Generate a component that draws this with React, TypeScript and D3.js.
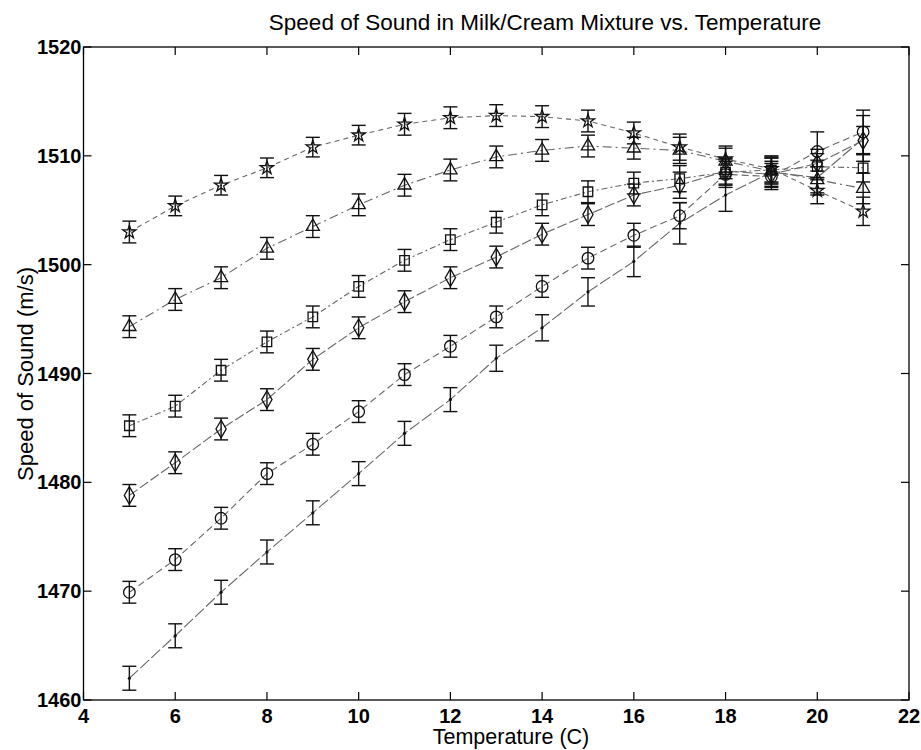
import React from "react";
import * as d3 from "d3";

const temps = [5, 6, 7, 8, 9, 10, 11, 12, 13, 14, 15, 16, 17, 18, 19, 20, 21];

const seriesStar = [1503.0, 1505.4, 1507.3, 1508.9, 1510.8, 1511.9, 1512.9, 1513.5, 1513.7, 1513.6, 1513.2, 1512.1, 1510.8, 1509.7, 1508.8, 1506.8, 1504.9];
const seriesTriangle = [1494.3, 1496.8, 1498.8, 1501.5, 1503.5, 1505.5, 1507.3, 1508.7, 1509.9, 1510.5, 1510.9, 1510.7, 1510.5, 1509.5, 1508.6, 1507.8, 1507.0];
const seriesSquare = [1485.2, 1487.0, 1490.3, 1492.9, 1495.2, 1498.0, 1500.4, 1502.3, 1503.9, 1505.5, 1506.7, 1507.5, 1507.9, 1508.5, 1508.7, 1509.0, 1508.9];
const seriesDiamond = [1478.8, 1481.8, 1484.9, 1487.6, 1491.3, 1494.2, 1496.6, 1498.8, 1500.7, 1502.8, 1504.6, 1506.4, 1507.3, 1508.6, 1508.3, 1509.3, 1511.4];
const seriesCircle = [1469.9, 1472.9, 1476.7, 1480.8, 1483.5, 1486.5, 1489.9, 1492.5, 1495.2, 1498.0, 1500.6, 1502.7, 1504.5, 1508.3, 1508.1, 1510.4, 1512.2];
const seriesPoint = [1462.0, 1465.9, 1469.9, 1473.6, 1477.2, 1480.8, 1484.5, 1487.6, 1491.4, 1494.2, 1497.5, 1500.3, 1503.8, 1506.4, 1508.5, 1508.0, 1511.6];

const errStar = [1.0, 0.9, 0.9, 0.9, 0.9, 0.9, 1.0, 1.0, 1.0, 1.0, 1.0, 1.0, 1.2, 1.2, 1.2, 1.2, 1.3];
const errTriangle = [1.0, 1.0, 1.0, 1.0, 1.0, 1.0, 1.0, 1.0, 1.0, 1.0, 1.0, 1.0, 1.2, 1.2, 1.2, 1.2, 1.4];
const errSquare = [1.0, 1.0, 1.0, 1.0, 1.0, 1.0, 1.0, 1.0, 1.0, 1.0, 1.0, 1.0, 1.2, 1.2, 1.2, 1.2, 1.3];
const errDiamond = [1.0, 1.0, 1.0, 1.0, 1.0, 1.0, 1.0, 1.0, 1.0, 1.0, 1.0, 1.0, 1.2, 1.2, 1.2, 1.3, 1.3];
const errCircle = [1.0, 1.0, 1.0, 1.0, 1.0, 1.0, 1.0, 1.0, 1.0, 1.0, 1.0, 1.1, 1.2, 1.2, 1.2, 1.8, 2.0];
const errPoint = [1.1, 1.1, 1.1, 1.1, 1.1, 1.1, 1.1, 1.1, 1.2, 1.2, 1.3, 1.4, 1.9, 1.5, 1.3, 1.6, 2.1];

const xTicks = [4, 6, 8, 10, 12, 14, 16, 18, 20, 22];
const yTicks = [1460, 1470, 1480, 1490, 1500, 1510, 1520];

const titleText = "Speed of Sound in Milk/Cream Mixture vs. Temperature";
const xLabel = "Temperature (C)";
const yLabel = "Speed of Sound (m/s)";

type Series = { name: string; values: number[]; err: number[]; marker: string; dash: string };

const series: Series[] = [
  { name: "star", values: seriesStar, err: errStar, marker: "star", dash: "5,4" },
  { name: "triangle", values: seriesTriangle, err: errTriangle, marker: "triangle", dash: "9,4,2,4" },
  { name: "square", values: seriesSquare, err: errSquare, marker: "square", dash: "6,3,2,3" },
  { name: "diamond", values: seriesDiamond, err: errDiamond, marker: "diamond", dash: "10,3" },
  { name: "circle", values: seriesCircle, err: errCircle, marker: "circle", dash: "7,4" },
  { name: "point", values: seriesPoint, err: errPoint, marker: "point", dash: "12,3" },
];

const W = 921;
const H = 750;
const left = 83.5;
const right = 909;
const top = 47;
const bottom = 700;

const font = "'Liberation Sans', Arial, Helvetica, sans-serif";

export default function App() {
  const x = d3.scaleLinear().domain([4, 22]).range([left, right]);
  const y = d3.scaleLinear().domain([1460, 1520]).range([bottom, top]);

  const line = d3
    .line<number>()
    .x((_, i) => x(temps[i]))
    .y((v) => y(v));

  const symbolPath = (m: string) => {
    const map: Record<string, [d3.SymbolType, number]> = {
      star: [d3.symbolStar, 55],
      triangle: [d3.symbolTriangle, 75],
      square: [d3.symbolSquare, 90],
      diamond: [d3.symbolDiamond, 90],
      circle: [d3.symbolCircle, 105],
    };
    const s = map[m];
    if (!s) return null;
    return d3.symbol().type(s[0]).size(s[1])() as string;
  };

  const cap = 7;

  return (
    <svg width={W} height={H} style={{ position: "absolute", left: 0, top: 0, background: "#fff" }}>
      <rect x={0} y={0} width={W} height={H} fill="#fff" />
      <text x={545} y={30} textAnchor="middle" fontFamily={font} fontSize={22.5}>
        {titleText}
      </text>

      {/* lines */}
      {series.map((s) => (
        <path
          key={"l" + s.name}
          d={line(s.values) as string}
          fill="none"
          stroke="#666"
          strokeWidth={1.1}
          strokeDasharray={s.dash}
        />
      ))}

      {/* error bars & markers */}
      {series.map((s) => (
        <g key={"e" + s.name}>
          {s.values.map((v, i) => {
            const cx = x(temps[i]);
            const y1 = y(v + s.err[i]);
            const y2 = y(v - s.err[i]);
            const p = symbolPath(s.marker);
            return (
              <g key={i}>
                <line x1={cx} x2={cx} y1={y1} y2={y2} stroke="#111" strokeWidth={1.4} />
                <line x1={cx - cap} x2={cx + cap} y1={y1} y2={y1} stroke="#111" strokeWidth={1.4} />
                <line x1={cx - cap} x2={cx + cap} y1={y2} y2={y2} stroke="#111" strokeWidth={1.4} />
                {p ? (
                  <path d={p} transform={`translate(${cx},${y(v)})`} fill="none" stroke="#111" strokeWidth={1.3} />
                ) : (
                  <circle cx={cx} cy={y(v)} r={1.6} fill="#111" />
                )}
              </g>
            );
          })}
        </g>
      ))}

      {/* axes box */}
      <rect x={left} y={top} width={right - left} height={bottom - top} fill="none" stroke="#000" strokeWidth={1.3} />

      {xTicks.map((t) => (
        <g key={"xt" + t}>
          <line x1={x(t)} x2={x(t)} y1={bottom} y2={bottom - 8} stroke="#000" strokeWidth={1.2} />
          <line x1={x(t)} x2={x(t)} y1={top} y2={top + 8} stroke="#000" strokeWidth={1.2} />
          <text x={x(t)} y={723} textAnchor="middle" fontFamily={font} fontSize={20} fontWeight="bold">
            {t}
          </text>
        </g>
      ))}
      {yTicks.map((t) => (
        <g key={"yt" + t}>
          <line x1={left} x2={left + 8} y1={y(t)} y2={y(t)} stroke="#000" strokeWidth={1.2} />
          <line x1={right} x2={right - 8} y1={y(t)} y2={y(t)} stroke="#000" strokeWidth={1.2} />
          <text x={left - 2} y={y(t) + 7} textAnchor="end" fontFamily={font} fontSize={20} fontWeight="bold">
            {t}
          </text>
        </g>
      ))}

      <text x={511} y={744} textAnchor="middle" fontFamily={font} fontSize={21.5}>
        {xLabel}
      </text>
      <text
        transform={`translate(33,${374}) rotate(-90)`}
        textAnchor="middle"
        fontFamily={font}
        fontSize={22}
      >
        {yLabel}
      </text>
    </svg>
  );
}
